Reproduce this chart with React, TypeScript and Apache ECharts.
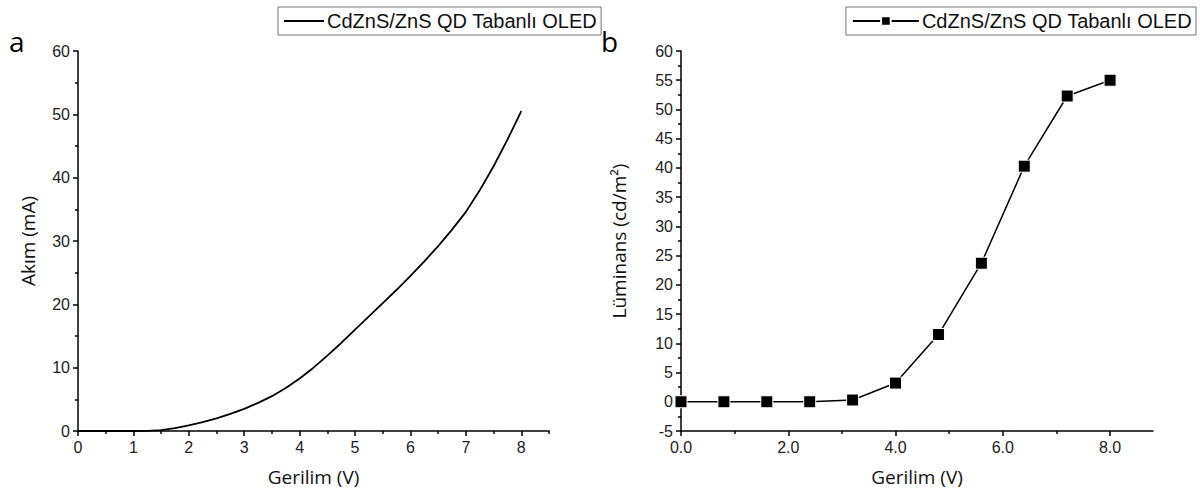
import React, { useEffect, useRef } from "react";
import * as echarts from "echarts";

const LEGEND_TEXT = "CdZnS/ZnS QD Tabanlı OLED";

// Panel a: I-V curve (read every 0.25 V)
const ivVoltage = [
  0, 0.25, 0.5, 0.75, 1.0, 1.25, 1.5, 1.75, 2.0, 2.25, 2.5, 2.75, 3.0, 3.25, 3.5, 3.75,
  4.0, 4.25, 4.5, 4.75, 5.0, 5.25, 5.5, 5.75, 6.0, 6.25, 6.5, 6.75, 7.0, 7.25, 7.5, 7.75, 8.0,
];
const ivCurrent = [
  0, 0, 0, 0, 0, 0.03, 0.15, 0.45, 0.9, 1.4, 2.0, 2.7, 3.5, 4.45, 5.5, 6.8,
  8.3, 10.0, 11.9, 13.9, 16.0, 18.1, 20.2, 22.3, 24.5, 26.8, 29.2, 31.8, 34.6, 38.0, 41.8, 46.0, 50.5,
];

// Panel b: luminance
const lumVoltage = [0, 0.8, 1.6, 2.4, 3.2, 4.0, 4.8, 5.6, 6.4, 7.2, 8.0];
const luminance = [0, 0, 0, 0, 0.3, 3.2, 11.5, 23.7, 40.3, 52.3, 55.0];

// ticks
const aXMajor = [0, 1, 2, 3, 4, 5, 6, 7, 8];
const aXMinor = [0.5, 1.5, 2.5, 3.5, 4.5, 5.5, 6.5, 7.5, 8.5];
const aYMajor = [0, 10, 20, 30, 40, 50, 60];
const aYMinor = [5, 15, 25, 35, 45, 55];
const bXMajor = [0, 2, 4, 6, 8];
const bXMinor = [1, 3, 5, 7];
const bYMajor = [-5, 0, 5, 10, 15, 20, 25, 30, 35, 40, 45, 50, 55, 60];
const bYMinor = [-2.5, 2.5, 7.5, 12.5, 17.5, 22.5, 27.5, 32.5, 37.5, 42.5, 47.5, 52.5, 57.5];

const TICK_FONT = "'Liberation Sans', Arial, sans-serif";
const TITLE_FONT = "'Open Sans', 'Noto Sans', sans-serif";
const AX = "#000";

function mainAxis(grid: number, min: number, max: number, major: number[], fmt: (v: number) => string, name: string, nameGap: number, isX: boolean) {
  return {
    type: "value",
    gridIndex: grid,
    min,
    max,
    position: isX ? "bottom" : "left",
    name,
    nameLocation: "middle",
    nameGap,
    nameTextStyle: { fontFamily: TITLE_FONT, fontSize: 19, color: "#111" },
    axisLine: { show: true, onZero: false, lineStyle: { color: AX, width: 1.5 } },
    axisTick: { show: true, length: 5, customValues: major, lineStyle: { color: AX, width: 1.5 } },
    axisLabel: {
      show: true,
      customValues: major,
      formatter: fmt,
      margin: 8,
      fontFamily: TICK_FONT,
      fontSize: 16,
      color: "#222",
    },
    splitLine: { show: false },
  };
}

function minorAxis(grid: number, min: number, max: number, minor: number[], isX: boolean) {
  return {
    type: "value",
    gridIndex: grid,
    min,
    max,
    position: isX ? "bottom" : "left",
    axisLine: { show: false, onZero: false },
    axisTick: { show: true, length: 3, customValues: minor, lineStyle: { color: AX, width: 1.5 } },
    axisLabel: { show: false },
    splitLine: { show: false },
  };
}

export default function App() {
  const ref = useRef<HTMLDivElement>(null);
  useEffect(() => {
    if (!ref.current) return;
    const chart = echarts.init(ref.current, null, { renderer: "svg" });
    const ivData = ivVoltage.map((v, i) => [v, ivCurrent[i]]);
    const lumData = lumVoltage.map((v, i) => [v, luminance[i]]);
    const legendBase = {
      top: 7,
      orient: "horizontal",
      borderColor: "#777",
      borderWidth: 1,
      padding: [4, 4, 4, 6],
      formatter: () => LEGEND_TEXT,
      textStyle: { fontFamily: TICK_FONT, fontSize: 20, lineHeight: 20, color: "#111", padding: [0, 0, 0, -2] },
    };
    const panelStyle = { fontFamily: TITLE_FONT, fontSize: 28, lineHeight: 18, fill: "#000", verticalAlign: "middle" };
    chart.setOption({
      animation: false,
      backgroundColor: "#fff",
      graphic: [
        { type: "text", left: 9, top: 27, style: { text: "a", ...panelStyle } },
        { type: "text", left: 601, top: 27, style: { text: "b", ...panelStyle } },
      ],
      legend: [
        { ...legendBase, left: 278, data: [{ name: "iv", icon: "rect" }], itemWidth: 40, itemHeight: 2 },
        { ...legendBase, right: 4, data: ["lum"], itemWidth: 66, itemHeight: 12 },
      ],
      grid: [
        { left: 78, top: 51, width: 471, height: 380, containLabel: false },
        { left: 681, top: 51, width: 472, height: 380, containLabel: false },
      ],
      xAxis: [
        mainAxis(0, 0, 8.5, aXMajor, (v) => String(v), "Gerilim (V)", 36, true),
        minorAxis(0, 0, 8.5, aXMinor, true),
        mainAxis(1, 0, 8.8, bXMajor, (v) => v.toFixed(1), "Gerilim (V)", 36, true),
        minorAxis(1, 0, 8.8, bXMinor, true),
      ],
      yAxis: [
        mainAxis(0, 0, 60, aYMajor, (v) => String(v), "Akım (mA)", 41, false),
        minorAxis(0, 0, 60, aYMinor, false),
        mainAxis(1, -5, 60, bYMajor, (v) => String(v), "Lüminans (cd/m²)", 53, false),
        minorAxis(1, -5, 60, bYMinor, false),
      ],
      series: [
        {
          name: "iv",
          type: "line",
          xAxisIndex: 0,
          yAxisIndex: 0,
          data: ivData,
          smooth: false,
          symbol: "none",
          showSymbol: false,
          lineStyle: { color: "#000", width: 1.8, join: "round" },
          itemStyle: { color: "#000" },
        },
        {
          name: "lum",
          type: "line",
          xAxisIndex: 2,
          yAxisIndex: 2,
          data: lumData,
          symbol: "rect",
          symbolSize: 12,
          lineStyle: { color: "#000", width: 1.5 },
          itemStyle: { color: "#000", borderColor: "#fff", borderWidth: 1 },
        },
      ],
    });
    return () => chart.dispose();
  }, []);
  return (
    <div
      ref={ref}
      style={{ position: "fixed", left: 0, top: 0, width: 1200, height: 494, background: "#fff" }}
    />
  );
}
